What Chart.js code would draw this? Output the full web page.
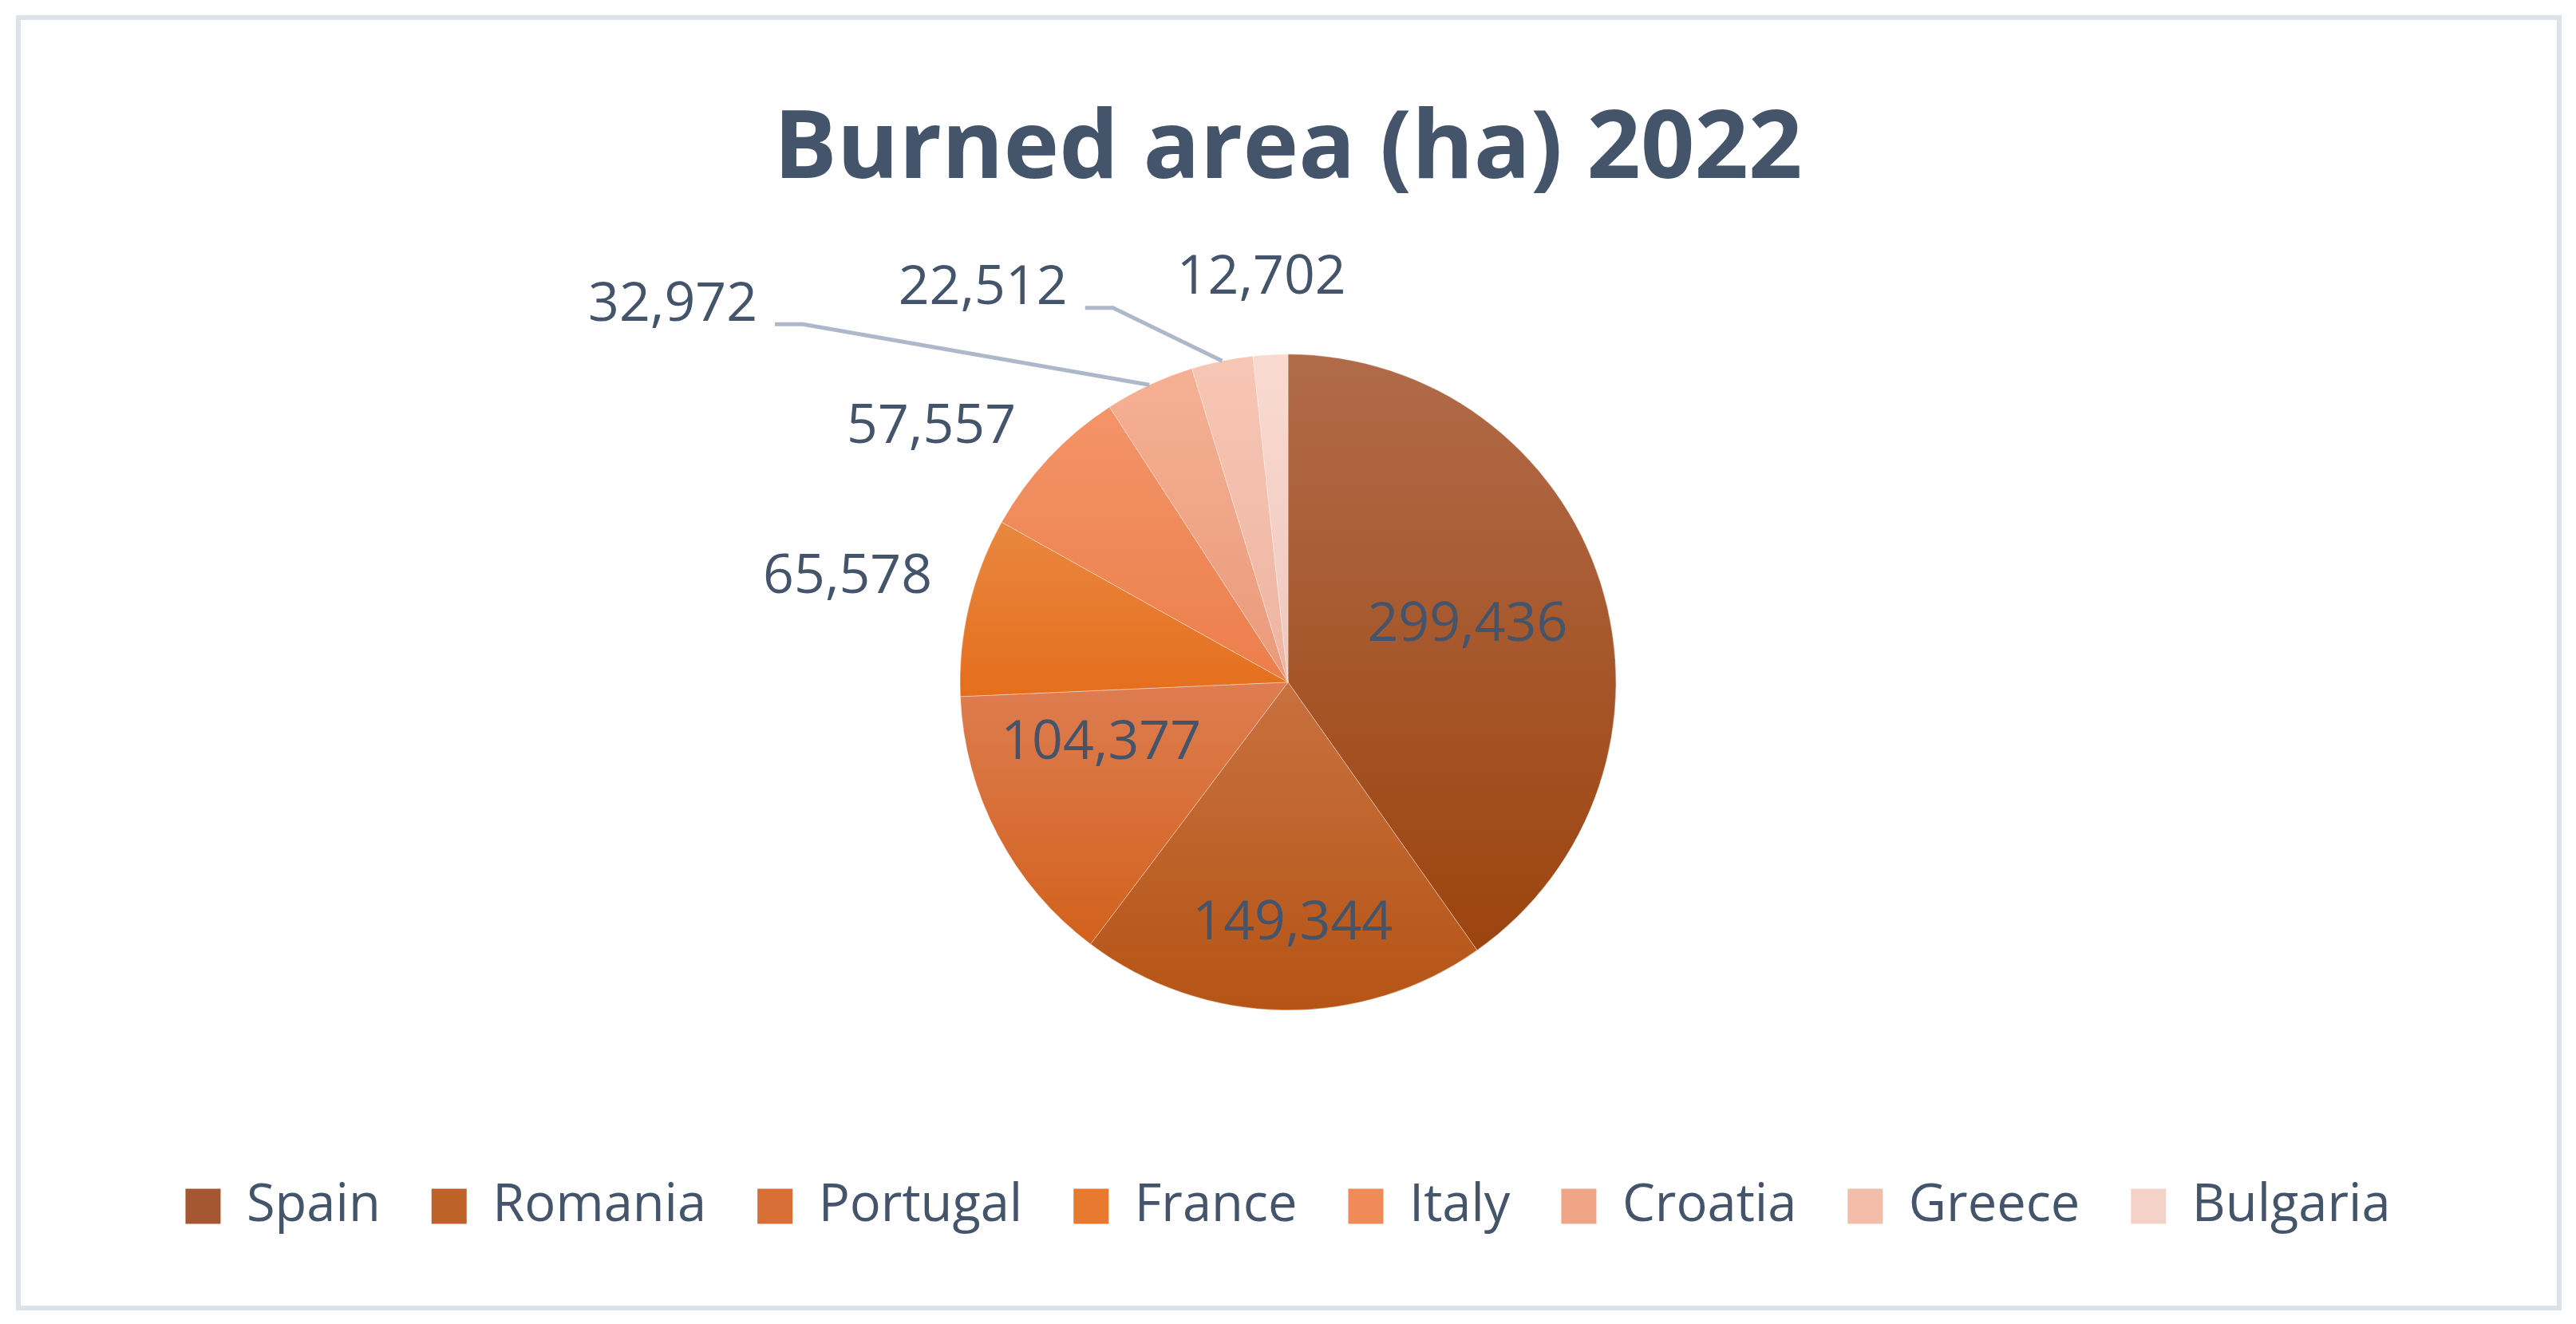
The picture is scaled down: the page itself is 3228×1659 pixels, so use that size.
<!DOCTYPE html>
<html>
<head>
<meta charset="utf-8">
<title>Burned area (ha) 2022</title>
<script src="https://cdn.jsdelivr.net/npm/chart.js@4.4.1/dist/chart.umd.min.js"></script>
<style>
  html, body { margin: 0; padding: 0; background: #fff; overflow: hidden; }
  #wrap { position: relative; width: 3228px; height: 1659px; }
</style>
</head>
<body>
<div id="wrap"><canvas id="burned-area"></canvas></div>
<script>
// data
const countries = ['Spain', 'Romania', 'Portugal', 'France', 'Italy', 'Croatia', 'Greece', 'Bulgaria'];
const burnedHa = [299436, 149344, 104377, 65578, 57557, 32972, 22512, 12702];

// colours: top and bottom of each slice gradient, plus a flat one for the legend
const topColors = ['#B16B49', '#C8713F', '#DE7D51', '#E9873F', '#F39468', '#F5B094', '#F8C6B4', '#FADAD0'];
const bottomColors = ['#9C440E', '#B55415', '#D2611C', '#E56E1C', '#EC7E4B', '#EA9A7A', '#EDB4A1', '#EEC8BE'];
const legendColors = ['#A65630', '#BE6229', '#D86F36', '#E77A2E', '#F08A58', '#F0A686', '#F3BDAA', '#F5D2C8'];

const textColor = '#44546A';
const PIE_RADIUS = 411;

// where each value label sits: fraction of radius + angle shift (deg) from slice middle
const labelPlace = [
  { r: 0.574, a: 0 },
  { r: 0.737, a: -2 },
  { r: 0.60, a: 9.6 },
  { r: 1.38, a: 0 },
  { r: 1.336, a: -7.6 },
  { r: 2.2, a: -33.5, leader: true },
  { r: 1.518, a: -26.2, leader: true },
  { r: 1.234, a: -0.7 },
];

function formatNumber(v) {
  return v.toLocaleString('en-US');
}

// vertical gradient spanning each slice's own height
function sliceGradient(context) {
  const i = context.dataIndex;
  const chart = context.chart;
  const area = chart.chartArea;
  if (context.type !== 'data' || !area) return legendColors[i];
  const cx = (area.left + area.right) / 2;
  const cy = (area.top + area.bottom) / 2;
  const total = burnedHa.reduce((a, b) => a + b, 0);
  let before = 0;
  for (let j = 0; j < i; j++) before += burnedHa[j];
  const s = -Math.PI / 2 + before / total * Math.PI * 2;
  const e = s + burnedHa[i] / total * Math.PI * 2;
  const ys = [cy, cy + PIE_RADIUS * Math.sin(s), cy + PIE_RADIUS * Math.sin(e)];
  const hits = (t) => {
    for (let k = -1; k <= 2; k++) {
      const tt = t + k * Math.PI * 2;
      if (tt >= s && tt <= e) return true;
    }
    return false;
  };
  if (hits(Math.PI / 2)) ys.push(cy + PIE_RADIUS);
  if (hits(-Math.PI / 2)) ys.push(cy - PIE_RADIUS);
  const y0 = Math.min(...ys);
  const y1 = Math.max(...ys);
  const g = chart.ctx.createLinearGradient(0, y0, 0, y1 + 0.01);
  g.addColorStop(0, topColors[i]);
  g.addColorStop(1, bottomColors[i]);
  return g;
}

// frame round the whole chart
const framePlugin = {
  id: 'frame',
  afterDraw(chart) {
    const c = chart.ctx;
    c.save();
    c.strokeStyle = '#DDE2E8';
    c.lineWidth = 6;
    c.strokeRect(23, 22, 3184, 1617);
    c.restore();
  }
};

// value labels + leader lines
const valueLabels = {
  id: 'valueLabels',
  afterDatasetsDraw(chart) {
    const c = chart.ctx;
    const meta = chart.getDatasetMeta(0);
    c.save();
    c.font = '68px "Open Sans"';
    c.fillStyle = textColor;
    c.textAlign = 'center';
    c.textBaseline = 'middle';
    meta.data.forEach((arc, i) => {
      const p = arc.getProps(['x', 'y', 'startAngle', 'endAngle', 'outerRadius'], true);
      const mid = (p.startAngle + p.endAngle) / 2;
      const place = labelPlace[i];
      const ang = mid + place.a * Math.PI / 180;
      const lx = p.x + Math.cos(ang) * p.outerRadius * place.r;
      const ly = p.y + Math.sin(ang) * p.outerRadius * place.r;
      const text = formatNumber(burnedHa[i]);
      if (place.leader) {
        const w = c.measureText(text).width;
        const lineY = ly + 24;
        c.beginPath();
        c.strokeStyle = '#ADB9CA';
        c.lineWidth = 5;
        c.moveTo(lx + w / 2 + 22, lineY);
        c.lineTo(lx + w / 2 + 57, lineY);
        c.lineTo(p.x + Math.cos(mid) * p.outerRadius, p.y + Math.sin(mid) * p.outerRadius);
        c.stroke();
      }
      c.fillText(text, lx, ly);
    });
    c.restore();
  }
};

const chartEl = document.getElementById('burned-area');

new Chart(chartEl, {
  type: 'pie',
  data: {
    labels: countries,
    datasets: [{
      data: burnedHa,
      backgroundColor: sliceGradient,
      borderColor: 'rgba(255,255,255,0.35)',
      borderWidth: 1,
      radius: PIE_RADIUS,
    }]
  },
  options: {
    responsive: true,
    maintainAspectRatio: false,
    animation: false,
    events: [],
    layout: { padding: { top: 0, bottom: 105, left: 0, right: 0 } },
    plugins: {
      title: {
        display: true,
        text: 'Burned area (ha) 2022',
        color: textColor,
        font: { family: '"Open Sans"', size: 118, weight: 'bold', lineHeight: 1.2 },
        padding: { top: 119, bottom: 34 },
      },
      legend: {
        position: 'bottom',
        labels: {
          color: textColor,
          font: { family: '"Open Sans"', size: 65 },
          boxWidth: 44,
          boxHeight: 44,
          padding: 64,
          generateLabels: (chart) => countries.map((name, i) => ({
            text: name,
            fillStyle: legendColors[i],
            strokeStyle: legendColors[i],
            lineWidth: 0,
            hidden: false,
            index: i,
            fontColor: textColor,
          })),
        },
      },
      tooltip: { enabled: false },
    },
  },
  plugins: [valueLabels, framePlugin],
});
</script>
</body>
</html>
